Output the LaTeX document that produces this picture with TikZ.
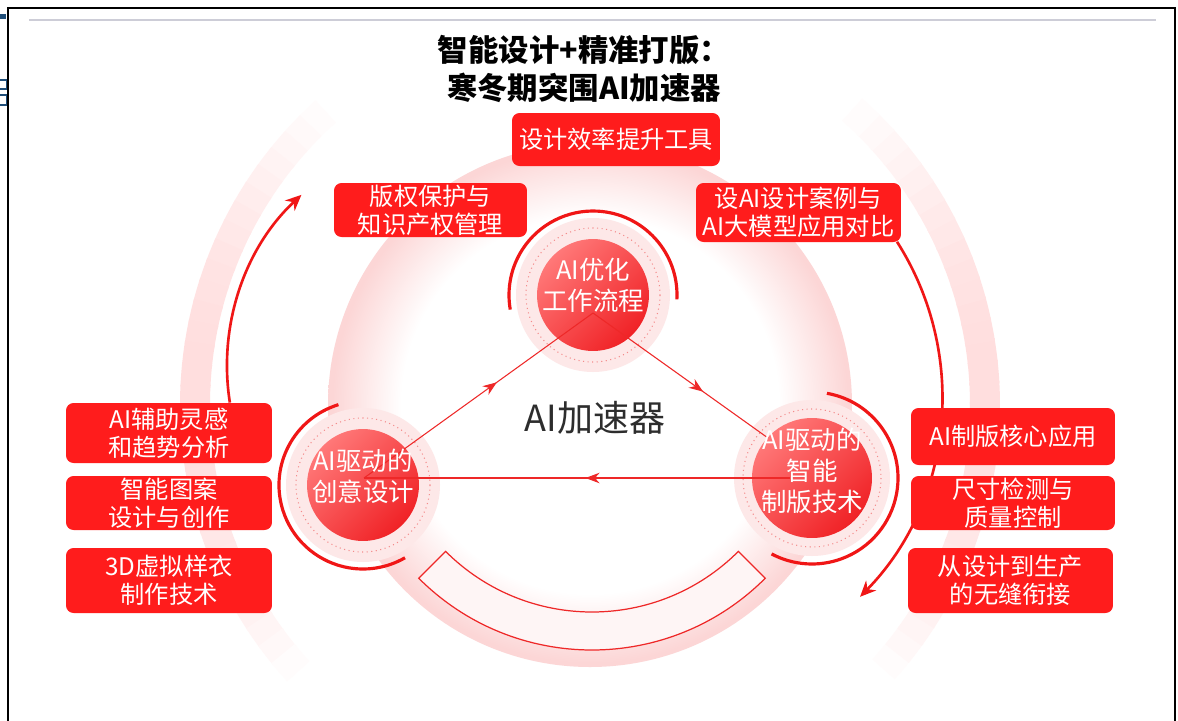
\documentclass[tikz,border=0pt]{standalone}
\usepackage{fontspec}
\setmainfont{Noto Sans CJK SC}
\usetikzlibrary{arrows.meta,decorations.markings}
\definecolor{boxred}{RGB}{255,28,28}
\definecolor{arcred}{RGB}{240,22,22}
\definecolor{linered}{RGB}{238,40,40}
\definecolor{pinkedge}{RGB}{252,214,214}
\definecolor{halofill}{RGB}{253,232,232}
\definecolor{dotpink}{RGB}{244,140,140}
\definecolor{circlight}{RGB}{255,120,120}
\definecolor{circdark}{RGB}{240,34,38}
\definecolor{navy}{RGB}{31,78,121}
\definecolor{rulegray}{RGB}{205,205,215}
\definecolor{textgray}{RGB}{45,45,45}
\definecolor{sectorfill}{RGB}{254,245,245}
\pgfdeclareradialshading{discshade}{\pgfpoint{0bp}{0bp}}{color(0bp)=(white); color(18bp)=(white); color(24.6bp)=(pinkedge); color(25bp)=(pinkedge); color(50bp)=(pinkedge)}
\begin{document}
\begin{tikzpicture}[x=0.02cm,y=-0.02cm,
  rbox/.style={draw=none, fill=boxred, rounded corners=0.15cm, text=white, align=center,
    font=\fontsize{13.8}{16}\selectfont, inner sep=0pt, minimum width=4.12cm},
  redcirc/.style={circle, draw=none, top color=circlight, bottom color=circdark, shading angle=45, inner sep=0pt},
  ctext/.style={text=white, align=center, font=\fontsize{14.5}{17.5}\selectfont, inner sep=0pt},
  thickarc/.style={draw=arcred, line width=1.8pt},
  conn/.style={draw=linered, line width=0.6pt},
  bigarrow/.style={draw=arcred, line width=1.5pt, -{Stealth[length=9pt,width=8pt]}},
  haloring/.style={fill=halofill},
  dotring/.style={draw=dotpink, dotted, line width=0.6pt},
  midarrow/.style={postaction={decorate}, decoration={markings, mark=at position #1 with {\arrow{Stealth[length=8pt,width=6pt]}}}},
]
\useasboundingbox (0,0) rectangle (1178,721);
\fill[white] (0,0) rectangle (1178,721);

% outer faint ring, fading towards top and bottom
\foreach \a in {0,3,...,357}{
  \pgfmathsetmacro\yy{405-395*sin(\a+1.5)}
  \pgfmathsetmacro\kk{max(0,13*(1-((\yy-390)/285)^2))}
  \ifdim\kk pt>0.3pt
    \draw[line width=0.6cm, color=red!\kk] (590,405) ++(-\a:395) arc[start angle=-\a, end angle=-\a-3.4, radius=395];
  \fi
}

% middle disc
\coordinate (C) at (592,405);
\shade[shading=discshade] (590,405) circle[radius=262];

% bottom sector outline
\draw[linered, line width=0.7pt, fill=sectorfill] (C) ++(135:245) arc[start angle=135, end angle=45, radius=245]
  -- ([shift={(45:207)}]C) arc[start angle=45, end angle=135, radius=207] -- cycle;

% halos and dotted rings
\fill[haloring] (593,295) circle[radius=77];
\fill[haloring] (363,485) circle[radius=77];
\fill[haloring] (812,478) circle[radius=78];
\draw[dotring] (593,295) circle[radius=67];
\draw[dotring] (363,485) circle[radius=67];
\draw[dotring] (812,478) circle[radius=69];

% red circles
\node[redcirc, minimum size=2.24cm] (cT) at (593,295) {};
\node[redcirc, minimum size=2.24cm] (cL) at (363,485) {};
\node[redcirc, minimum size=2.40cm] (cR) at (812,478) {};

% thick partial arcs
\draw[thickarc] (593,295) ++(3:84) arc[start angle=3, end angle=-190, radius=84];
\draw[thickarc] (363,485) ++(-107:84) arc[start angle=-107, end angle=-300, radius=84];
\draw[thickarc] (812,478) ++(-80:86) arc[start angle=-80, end angle=118, radius=86];

% connectors
\coordinate (vT) at (593,313);
\coordinate (vL) at (364,478);
\coordinate (vR) at (790,478);
\coordinate (vRe) at (768,438);
\draw[conn, midarrow=0.58] (vL) -- (vT);
\draw[conn, midarrow=0.63] (vT) -- (vRe);
\draw[conn, midarrow=0.48] (vR) -- (vL);

% circle texts
\node[ctext] (tT) at (593,285) {AI优化\\工作流程};
\node[ctext] (tL) at (363,476) {AI驱动的\\创意设计};
\node[ctext] (tR) at (812,471) {AI驱动的\\智能\\制版技术};

% center label
\node[font=\fontsize{20.5}{22}\selectfont, text=textgray, inner sep=0pt] (lab) at (595,418) {AI加速器};

% big arrows
\draw[bigarrow] (461,366) ++(-189:234) arc[start angle=-189, end angle=-133, radius=234];
\draw[bigarrow] (655,396) ++(-32.5:287) arc[start angle=-32.5, end angle=44.4, radius=287];

% boxes
\node[rbox, minimum width=4.16cm, minimum height=1.06cm] (b1) at (616,139.5) {设计效率提升工具};
\node[rbox, minimum width=3.86cm, minimum height=1.08cm] (b2) at (430.5,210) {版权保护与\\知识产权管理};
\node[rbox, minimum width=4.10cm, minimum height=1.18cm] (b3) at (798.5,212.5) {设AI设计案例与\\AI大模型应用对比};
\node[rbox, minimum height=1.20cm] (b4) at (169,433) {AI辅助灵感\\和趋势分析};
\node[rbox, minimum height=1.08cm] (b5) at (169,503) {智能图案\\设计与创作};
\node[rbox, minimum height=1.30cm] (b6) at (169,580.5) {3D虚拟样衣\\制作技术};
\node[rbox, minimum width=4.08cm, minimum height=1.14cm] (b7) at (1013,436.5) {AI制版核心应用};
\node[rbox, minimum width=4.08cm, minimum height=1.08cm] (b8) at (1013,503) {尺寸检测与\\质量控制};
\node[rbox, minimum width=4.10cm, minimum height=1.30cm] (b9) at (1010.5,580.5) {从设计到生产\\的无缝衔接};

% title
\node[font=\fontsize{17.3}{21.5}\selectfont\bfseries, align=center, inner sep=0pt] (title) at (584,69) {智能设计+精准打版：\\寒冬期突围AI加速器};

% frame and rule
\draw[black, line width=1.1pt] (8.3,725) -- (8.3,8.3) -- (1174.7,8.3) -- (1174.7,725);
\draw[rulegray, line width=0.8pt] (29,19.8) -- (1156,19.8);
\fill[navy] (0,13.5) rectangle (5.5,19);
\draw[navy, line width=0.9pt] (0,80) -- (6.5,80) -- (6.5,89) -- (0,89) (0,95) -- (6.5,95) -- (6.5,105) -- (0,105);
\end{tikzpicture}
\end{document}
